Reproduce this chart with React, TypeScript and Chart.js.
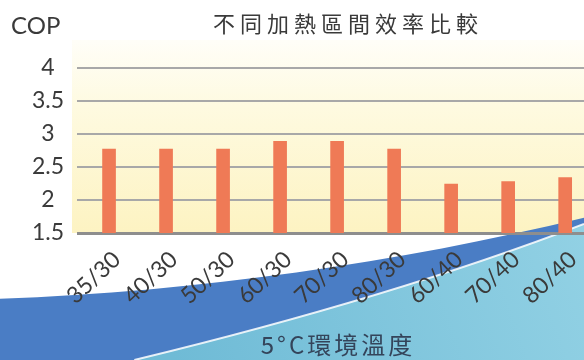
import React, { useEffect, useRef } from 'react';
import { Chart, registerables } from 'chart.js';

Chart.register(...registerables);

const categories = ['35/30', '40/30', '50/30', '60/30', '70/30', '80/30', '60/40', '70/40', '80/40'];
const copValues = [2.77, 2.77, 2.77, 2.89, 2.89, 2.77, 2.24, 2.28, 2.34];
const yTicks = [1.5, 2, 2.5, 3, 3.5, 4];
const chartTitle = '不同加熱區間效率比較';
const yAxisLabel = 'COP';
const footerLabel = '5°C環境溫度';

const LATIN = 'Lato, "Noto Sans", sans-serif';
const CJK = '"Noto Sans CJK TC", "Noto Sans", sans-serif';

const decorPlugin = {
  id: 'decor',
  beforeDraw(chart: any) {
    const { ctx, chartArea: ca, width: W, height: H } = chart;
    ctx.save();
    ctx.fillStyle = '#ffffff';
    ctx.fillRect(0, 0, W, H);
    // pale yellow plot background
    const g = ctx.createLinearGradient(0, ca.top - 28, 0, ca.bottom);
    g.addColorStop(0, '#fffef8');
    g.addColorStop(0.35, '#fefae0');
    g.addColorStop(1, '#fdf3c2');
    ctx.fillStyle = g;
    ctx.fillRect(ca.left - 5, ca.top - 28, ca.right - ca.left + 5, ca.bottom - ca.top + 28);
    // dark blue wave
    ctx.beginPath();
    ctx.moveTo(0, H * 0.83);
    ctx.bezierCurveTo(W * 0.34, H * 0.81, W * 0.68, H * 0.73, W, H * 0.605);
    ctx.lineTo(W, H);
    ctx.lineTo(0, H);
    ctx.closePath();
    ctx.fillStyle = '#4a7dc5';
    ctx.fill();
    // light blue wave
    ctx.beginPath();
    ctx.moveTo(W * 0.23, H);
    ctx.bezierCurveTo(W * 0.51, H * 0.89, W * 0.77, H * 0.765, W, H * 0.622);
    ctx.lineTo(W, H);
    ctx.closePath();
    const lg = ctx.createLinearGradient(W * 0.3, H, W, H * 0.6);
    lg.addColorStop(0, '#6fbbd6');
    lg.addColorStop(1, '#92d1e4');
    ctx.fillStyle = lg;
    ctx.fill();
    ctx.beginPath();
    ctx.moveTo(W * 0.23, H);
    ctx.bezierCurveTo(W * 0.51, H * 0.89, W * 0.77, H * 0.765, W, H * 0.622);
    ctx.strokeStyle = 'rgba(255,255,255,0.85)';
    ctx.lineWidth = 2;
    ctx.stroke();
    ctx.restore();
  },
  afterDraw(chart: any) {
    const { ctx } = chart;
    ctx.save();
    ctx.textBaseline = 'middle';
    ctx.fillStyle = '#3a3a3a';
    ctx.font = `24px ${LATIN}`;
    ctx.textAlign = 'left';
    ctx.fillText(yAxisLabel, 11, 26);
    ctx.font = `22px ${CJK}`;
    ctx.textAlign = 'center';
    (ctx as any).letterSpacing = '5px';
    ctx.fillText(chartTitle, 348, 24);
    ctx.fillStyle = '#34445a';
    ctx.font = `24px ${CJK}`;
    (ctx as any).letterSpacing = '3px';
    ctx.fillText(footerLabel, 338, 345);
    ctx.restore();
  },
};

export default function App() {
  const ref = useRef<HTMLCanvasElement>(null);
  useEffect(() => {
    if (!ref.current) return;
    const chart = new Chart(ref.current, {
      type: 'bar',
      data: {
        datasets: [
          {
            label: 'COP',
            data: copValues.map((v, i) => ({ x: i, y: v })),
            backgroundColor: '#ef7a56',
            borderWidth: 0,
            barThickness: 13,
          },
        ],
      },
      options: {
        animation: false,
        responsive: false,
        layout: { padding: { top: 68, left: 0, right: 0, bottom: 0 } },
        plugins: { legend: { display: false }, tooltip: { enabled: false }, title: { display: false } },
        scales: {
          x: {
            type: 'linear',
            offset: false,
            min: -0.562,
            max: 8.33,
            afterBuildTicks: (s: any) => {
              s.ticks = categories.map((_, i) => ({ value: i }));
            },
            afterFit: (s: any) => {
              s.height = 127;
              s.paddingLeft = 0;
              s.paddingRight = 0;
            },
            grid: { display: false, offset: false },
            border: { display: false },
            ticks: {
              autoSkip: false,
              minRotation: 43,
              maxRotation: 43,
              padding: 5,
              labelOffset: 8,
              color: '#3a3a3a',
              font: { family: LATIN, size: 23 },
              callback: (v: any) => categories[v as number] ?? '',
            },
          },
          y: {
            min: 1.5,
            max: 4,
            afterBuildTicks: (s: any) => {
              s.ticks = yTicks.map((v) => ({ value: v }));
            },
            afterFit: (s: any) => {
              s.width = 77;
              s.paddingTop = 0;
              s.paddingBottom = 0;
            },
            border: { display: false },
            grid: {
              drawTicks: false,
              lineWidth: (c: any) => (c.tick && c.tick.value === 1.5 ? 3 : 2),
              color: (c: any) => (c.tick && c.tick.value === 1.5 ? '#8e8e8e' : '#a8a8a8'),
            },
            ticks: {
              crossAlign: 'center',
              padding: 13,
              color: '#3a3a3a',
              font: { family: LATIN, size: 23 },
              callback: (v: any) => String(v),
            },
          },
        },
      },
      plugins: [decorPlugin],
    } as any);
    return () => chart.destroy();
  }, []);
  return (
    <div style={{ position: 'absolute', left: 0, top: 0, width: 584, height: 360 }}>
      <canvas ref={ref} width={584} height={360} />
    </div>
  );
}
